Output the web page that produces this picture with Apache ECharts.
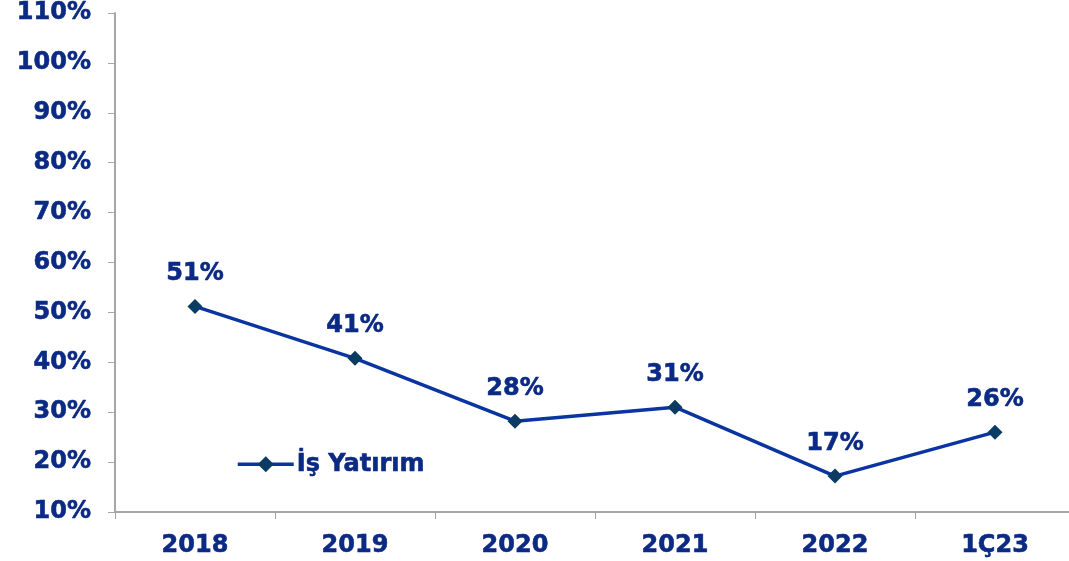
<!DOCTYPE html>
<html>
<head>
<meta charset="utf-8">
<script src="https://cdn.jsdelivr.net/npm/echarts@6/dist/echarts.min.js"></script>
<style>
  html, body { margin: 0; padding: 0; background: #fff; overflow: hidden; }
  #chart { width: 1076px; height: 561px; }
</style>
</head>
<body>
<div id="chart"></div>
<script>
// x axis categories
const categories = ['2018', '2019', '2020', '2021', '2022', '1Ç23']
// series values (%)
const isYatirim = [51.2, 40.8, 28.2, 31.0, 17.2, 26.0]
// y axis range
const yMin = 10
const yMax = 110
const yStep = 10

const textColor = '#0B2A83'
const fontFamily = 'DejaVu Sans'

// shared bold text style (Verdana-ish look)
const boldText = {
    color: textColor,
    fontFamily: fontFamily,
    fontWeight: 'bold',
    fontSize: 24,
    textBorderColor: textColor,
    textBorderWidth: 0.6
}

const myChart = echarts.init(document.getElementById('chart'))

const option = {
    animation: false,
    grid: {
        left: 115,
        top: 13,
        width: 960,
        height: 499
    },
    legend: {
        left: 231,
        top: 447,
        itemWidth: 56,
        itemHeight: 20,
        lineStyle: { width: 3.5 },
        textStyle: Object.assign({}, boldText, { padding: [0, 0, 0, -2] }),
        data: ['İş Yatırım']
    },
    xAxis: {
        type: 'category',
        data: categories,
        boundaryGap: true,
        axisLine: { lineStyle: { color: '#A6A6A6', width: 2 } },
        axisTick: { show: true, length: 7, lineStyle: { color: '#A6A6A6' } },
        axisLabel: Object.assign({ margin: 22 }, boldText)
    },
    yAxis: {
        type: 'value',
        min: yMin,
        max: yMax,
        interval: yStep,
        axisLine: { show: true, lineStyle: { color: '#A6A6A6', width: 2 } },
        axisTick: { show: true, length: 7, lineStyle: { color: '#A6A6A6' } },
        splitLine: { show: false },
        axisLabel: Object.assign({ margin: 24, formatter: '{value}%' }, boldText)
    },
    series: [{
        name: 'İş Yatırım',
        type: 'line',
        data: isYatirim,
        symbol: 'diamond',
        symbolSize: 15,
        lineStyle: { color: '#0A34A0', width: 3.5 },
        itemStyle: { color: '#0B3A62' },
        label: Object.assign({
            show: true,
            position: 'top',
            distance: 13,
            formatter: function (p) {
                return Math.round(p.value) + '%'
            }
        }, boldText)
    }]
}

myChart.setOption(option)
</script>
</body>
</html>
